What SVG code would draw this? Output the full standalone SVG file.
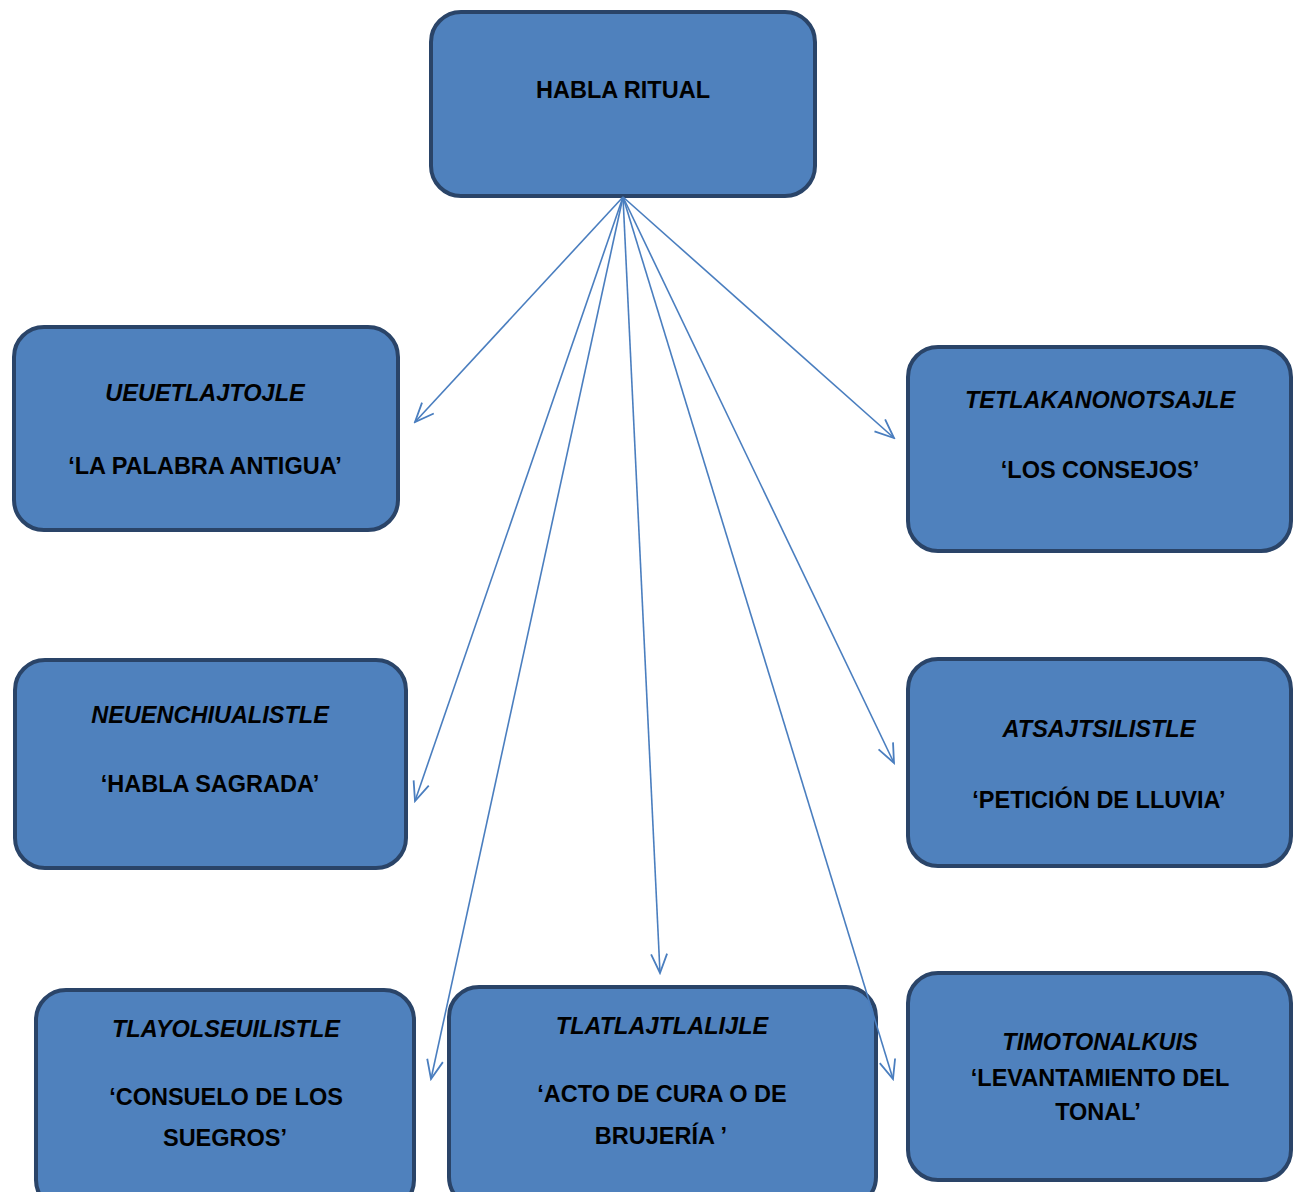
<svg xmlns="http://www.w3.org/2000/svg" width="1294" height="1192" viewBox="0 0 1294 1192">
<style>
  .box { fill: #4F81BD; stroke: #2A4468; stroke-width: 4; }
  text { font-family: "Liberation Sans", Arial, sans-serif; font-weight: bold; font-size: 23.5px; fill: #000; text-anchor: middle; }
  .it { font-style: italic; }
  .conn { stroke: #4A7EBF; stroke-width: 1.6; fill: none; marker-end: url(#arr); }
</style>
<defs>
  <marker id="arr" markerUnits="userSpaceOnUse" viewBox="0 0 22 22" refX="20" refY="11" markerWidth="22" markerHeight="22" orient="auto">
    <path d="M1,3 L20,11 L1,19" fill="none" stroke="#4A7EBF" stroke-width="1.8"/>
  </marker>
</defs>
<rect width="1294" height="1192" fill="#fff"/>

<g id="habla-ritual">
  <rect class="box" x="431" y="12" width="384" height="184" rx="30"/>
  <text x="623" y="98">HABLA RITUAL</text>
</g>
<g id="ueuetlajtojle">
  <rect class="box" x="14" y="327" width="384" height="203" rx="30"/>
  <text class="it" x="205" y="401">UEUETLAJTOJLE</text>
  <text x="205" y="474">‘LA PALABRA ANTIGUA’</text>
</g>
<g id="tetlakanonotsajle">
  <rect class="box" x="908" y="347" width="383" height="204" rx="30"/>
  <text class="it" x="1100" y="408">TETLAKANONOTSAJLE</text>
  <text x="1100" y="478">‘LOS CONSEJOS’</text>
</g>
<g id="neuenchiualistle">
  <rect class="box" x="15" y="660" width="391" height="208" rx="30"/>
  <text class="it" x="210" y="723">NEUENCHIUALISTLE</text>
  <text x="210" y="792">‘HABLA SAGRADA’</text>
</g>
<g id="atsajtsilistle">
  <rect class="box" x="908" y="659" width="383" height="207" rx="30"/>
  <text class="it" x="1099" y="737">ATSAJTSILISTLE</text>
  <text x="1099" y="808">‘PETICIÓN DE LLUVIA’</text>
</g>
<g id="tlayolseuilistle">
  <rect class="box" x="36" y="990" width="378" height="220" rx="30"/>
  <text class="it" x="226" y="1037">TLAYOLSEUILISTLE</text>
  <text x="226" y="1105">‘CONSUELO DE LOS</text>
  <text x="225" y="1146">SUEGROS’</text>
</g>
<g id="tlatlajtlalijle">
  <rect class="box" x="449" y="987" width="427" height="220" rx="30"/>
  <text class="it" x="662" y="1034">TLATLAJTLALIJLE</text>
  <text x="662" y="1102">‘ACTO DE CURA O DE</text>
  <text x="661" y="1144">BRUJERÍA ’</text>
</g>
<g id="timotonalkuis">
  <rect class="box" x="908" y="973" width="383" height="207" rx="30"/>
  <text class="it" x="1100" y="1050">TIMOTONALKUIS</text>
  <text x="1100" y="1086">‘LEVANTAMIENTO DEL</text>
  <text x="1098" y="1120">TONAL’</text>
</g>

<g id="connectors">
  <line class="conn" x1="623" y1="197" x2="415" y2="422"/>
  <line class="conn" x1="623" y1="197" x2="415" y2="801"/>
  <line class="conn" x1="623" y1="197" x2="431" y2="1079"/>
  <line class="conn" x1="623" y1="197" x2="660" y2="973"/>
  <line class="conn" x1="623" y1="197" x2="893" y2="1079"/>
  <line class="conn" x1="623" y1="197" x2="894" y2="438"/>
  <line class="conn" x1="623" y1="197" x2="894" y2="763"/>
</g>
</svg>
